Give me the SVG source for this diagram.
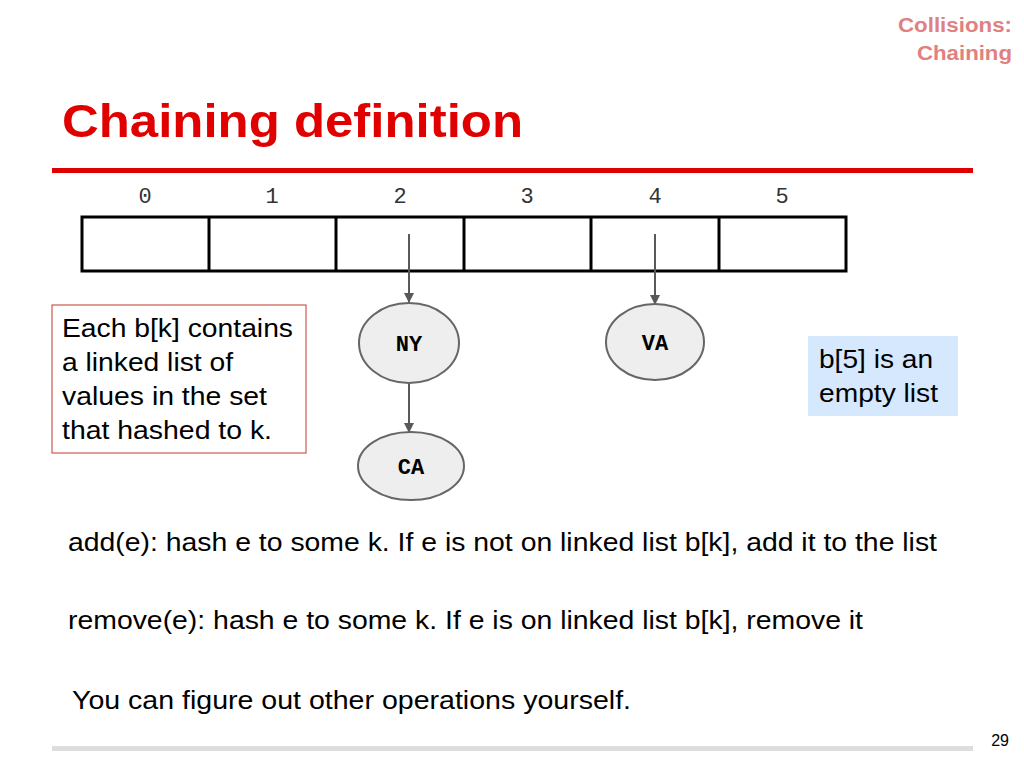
<svg xmlns="http://www.w3.org/2000/svg" width="1024" height="768" viewBox="0 0 1024 768">
<style>
.s{font-family:"Liberation Sans",Arial,sans-serif;fill:#000}
.m{font-family:"Liberation Mono","Courier New",monospace;font-size:22px;fill:#333;text-anchor:middle}
.n{fill:#eeeeee;stroke:#666;stroke-width:2}
.nt{font-family:"Liberation Mono","Courier New",monospace;font-size:22px;font-weight:bold;text-anchor:middle}
.c{stroke:#595959;stroke-width:2;fill:none}
</style>
<defs><marker id="a" markerWidth="10" markerHeight="10" refX="9" refY="5" orient="auto" markerUnits="userSpaceOnUse" viewBox="0 0 10 10"><path d="M0,0L10,5L0,10z" fill="#595959"/></marker></defs>
<rect width="1024" height="768" fill="#fff"/>
<text class="s" x="898" y="32" font-size="20" font-weight="bold" textLength="114" lengthAdjust="spacingAndGlyphs" style="fill:#e08080">Collisions:</text>
<text class="s" x="917" y="60" font-size="20" font-weight="bold" textLength="95" lengthAdjust="spacingAndGlyphs" style="fill:#e08080">Chaining</text>
<text class="s" x="62" y="137" font-size="46" font-weight="bold" textLength="461" lengthAdjust="spacingAndGlyphs" style="fill:#e00000">Chaining definition</text>
<rect x="52" y="168" width="921" height="5" fill="#e00000"/>
<g id="indices">
<text class="m" x="145" y="203">0</text><text class="m" x="272" y="203">1</text><text class="m" x="400" y="203">2</text><text class="m" x="527" y="203">3</text><text class="m" x="655" y="203">4</text><text class="m" x="782" y="203">5</text>
</g>
<g id="array" fill="none" stroke="#000" stroke-width="3">
<rect x="82" y="217" width="764" height="54"/>
<line x1="209" y1="217" x2="209" y2="271"/><line x1="336" y1="217" x2="336" y2="271"/><line x1="464" y1="217" x2="464" y2="271"/><line x1="591" y1="217" x2="591" y2="271"/><line x1="719" y1="217" x2="719" y2="271"/>
</g>
<g id="connectors">
<line class="c" x1="409" y1="234" x2="409" y2="302" marker-end="url(#a)"/>
<line class="c" x1="655" y1="234" x2="655" y2="304" marker-end="url(#a)"/>
<line class="c" x1="409" y1="383" x2="409" y2="432" marker-end="url(#a)"/>
</g>
<g id="NY"><ellipse class="n" cx="409" cy="343" rx="50" ry="40"/><text class="nt" x="409" y="351">NY</text></g>
<g id="VA"><ellipse class="n" cx="655" cy="342" rx="49" ry="38"/><text class="nt" x="655" y="350">VA</text></g>
<g id="CA"><ellipse class="n" cx="411" cy="466" rx="53" ry="34"/><text class="nt" x="411" y="474">CA</text></g>
<g id="note1"><rect x="52" y="305" width="254" height="148" fill="#fff" stroke="#c0392b" stroke-width="1"/>
<text class="s" font-size="25">
<tspan x="62" y="337" textLength="231" lengthAdjust="spacingAndGlyphs">Each b[k] contains</tspan>
<tspan x="62" y="371" textLength="171" lengthAdjust="spacingAndGlyphs">a linked list of</tspan>
<tspan x="62" y="405" textLength="205" lengthAdjust="spacingAndGlyphs">values in the set</tspan>
<tspan x="62" y="439" textLength="210" lengthAdjust="spacingAndGlyphs">that hashed to k.</tspan></text></g>
<g id="note2"><rect x="808" y="336" width="150" height="80" fill="#d6e8fd"/>
<text class="s" font-size="25"><tspan x="819" y="368" textLength="114" lengthAdjust="spacingAndGlyphs">b[5] is an</tspan><tspan x="819" y="402" textLength="119" lengthAdjust="spacingAndGlyphs">empty list</tspan></text></g>
<text class="s" x="68" y="551" font-size="25" textLength="869" lengthAdjust="spacingAndGlyphs">add(e): hash e to some k. If e is not on linked list b[k], add it to the list</text>
<text class="s" x="68" y="629" font-size="25" textLength="795" lengthAdjust="spacingAndGlyphs">remove(e): hash e to some k. If e is on linked list b[k], remove it</text>
<text class="s" x="72" y="709" font-size="25" textLength="559" lengthAdjust="spacingAndGlyphs">You can figure out other operations yourself.</text>
<rect x="52" y="746" width="921" height="5" fill="#ddd"/>
<text class="s" x="1009" y="746" font-size="16" text-anchor="end">29</text>
</svg>
